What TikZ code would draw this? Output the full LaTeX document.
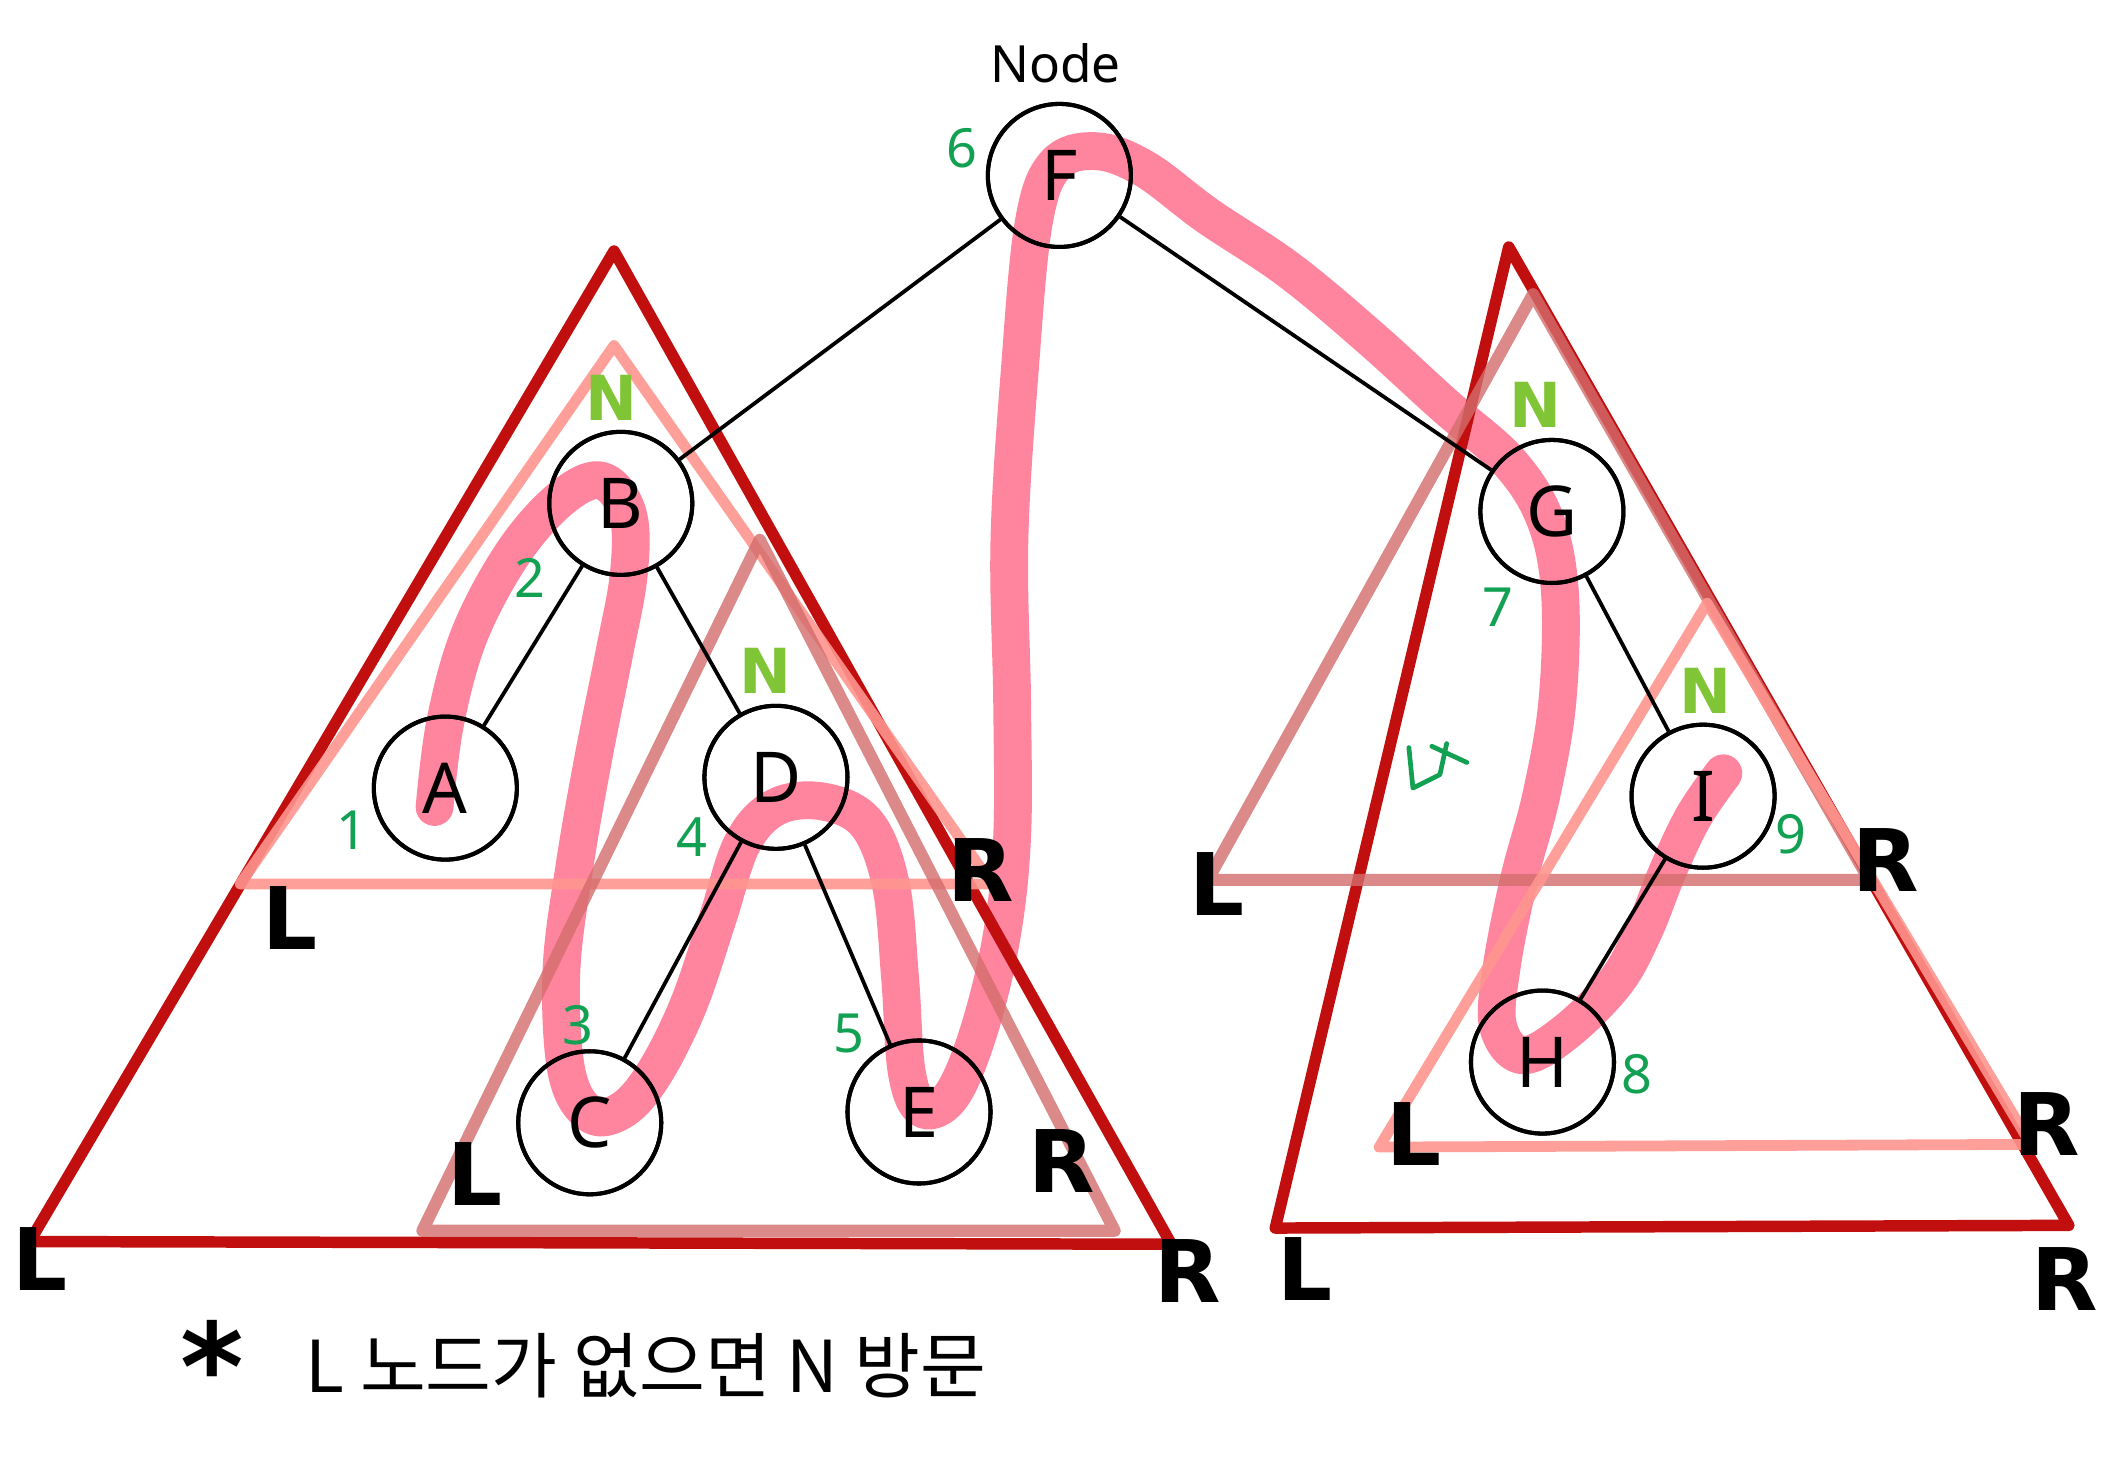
\documentclass[tikz,border=0pt]{standalone}
\usepackage{fontspec}
\setmainfont{Noto Sans}
\newfontfamily\heavy{DejaVu Sans}
\newfontfamily\kr{Noto Sans CJK KR}
\definecolor{dred}{HTML}{C10E0E}
\definecolor{salmon}{HTML}{FF958F}
\definecolor{dusty}{HTML}{D46C6C}
\definecolor{pinkp}{HTML}{FF7F9A}
\definecolor{numg}{HTML}{12A052}
\definecolor{limeg}{HTML}{80C535}
\tikzset{
  tnode/.style={circle, draw=black, line width=3pt, minimum size=106pt, inner sep=0pt, font=\fontsize{52}{56}\selectfont},
  edge/.style={draw=black, line width=2.8pt},
  bigtri/.style={draw=dred, line width=8.5pt, line join=round},
  saltri/.style={draw=salmon, line width=8pt, line join=round, opacity=0.9},
  dustri/.style={draw=dusty, line width=9pt, line join=round, opacity=0.8},
  pinkpath/.style={draw=pinkp, line width=28pt, line cap=round, line join=round, opacity=0.95},
  lr/.style={font=\heavy\bfseries\fontsize{64}{66}\selectfont, text=black, inner sep=0pt},
  num/.style={font=\fontsize{40}{44}\selectfont, text=numg, inner sep=0pt},
  nlab/.style={font=\heavy\bfseries\fontsize{46}{50}\selectfont, text=limeg, inner sep=0pt},
}
\begin{document}
\begin{tikzpicture}[x=1pt, y=-1pt]
\path[use as bounding box, fill=white] (0,0) rectangle (1568,1079);

% pink traversal path
\draw[pinkpath] plot[smooth, tension=0.6] coordinates {
 (322,598) (330,535) (348,470) (380,410) (415,370) (445,356) (465,380) (466,425)
 (455,485) (440,560) (426,640) (416,720) (420,795) (438,826) (462,822) (485,795)
 (510,745) (532,680) (550,625) (575,598) (610,594) (642,610) (660,655) (667,725)
 (672,795) (684,822) (705,812) (725,765) (742,695) (750,620) (750,520) (748,400)
 (756,270) (766,165) (782,122) (812,112) (848,125) (895,160) (955,200) (1015,250)
 (1070,300) (1118,342) (1145,385) (1156,440) (1154,520) (1142,590) (1126,650)
 (1113,715) (1110,760) (1128,782) (1160,765) (1197,728) (1218,690) (1236,645)
 (1255,605) (1277,573)};

% node positions
\node[tnode] (F) at (785,130) {F};
\node[tnode] (B) at (460,373) {B};
\node[tnode] (A) at (330,584) {A};
\node[tnode] (D) at (575,576) {D};
\node[tnode] (C) at (437,832) {C};
\node[tnode] (E) at (681,824) {E};
\node[tnode] (G) at (1150,379) {G};
\node[tnode] (I) at (1262,590) {I};
\node[tnode] (H) at (1143,787) {H};

% triangles left
\coordinate (la1) at (455,186); \coordinate (la2) at (22,920); \coordinate (la3) at (868,922);
\draw[bigtri] (la1) -- (la2) -- (la3) -- cycle;
\coordinate (lb1) at (455,256); \coordinate (lb2) at (178,655); \coordinate (lb3) at (735,655);
\draw[saltri] (lb1) -- (lb2) -- (lb3) -- cycle;
\coordinate (lc1) at (563,400); \coordinate (lc2) at (313,912); \coordinate (lc3) at (826,912);
\draw[dustri] (lc1) -- (lc2) -- (lc3) -- cycle;
% triangles right
\coordinate (ra1) at (1118,183); \coordinate (ra2) at (945,910); \coordinate (ra3) at (1533,908);
\draw[bigtri] (ra1) -- (ra2) -- (ra3) -- cycle;
\coordinate (rb1) at (1136,218); \coordinate (rb2) at (895,652); \coordinate (rb3) at (1385,652);
\draw[dustri] (rb1) -- (rb2) -- (rb3) -- cycle;
\coordinate (rc1) at (1265,447); \coordinate (rc2) at (1022,850); \coordinate (rc3) at (1505,848);
\draw[saltri] (rc1) -- (rc2) -- (rc3) -- cycle;

% edges
\draw[edge] (F) -- (B);
\draw[edge] (F) -- (G);
\draw[edge] (B) -- (A);
\draw[edge] (B) -- (D);
\draw[edge] (D) -- (C);
\draw[edge] (D) -- (E);
\draw[edge] (G) -- (I);
\draw[edge] (I) -- (H);

% redraw node circles on top
\foreach \n in {F,B,A,D,C,E,G,I,H} {\draw[line width=3pt] (\n) circle (53pt);}

% title
\node[font=\fontsize{38}{40}\selectfont, inner sep=0pt] (nodelbl) at (782,47) {Node};

% green numbers
\node[num] (n6) at (713,110) {6};
\node[num] (n2) at (393,428) {2};
\node[num] (n1) at (261,615) {1};
\node[num] (n4) at (513,620) {4};
\node[num] (n3) at (428,760) {3};
\node[num] (n5) at (629,766) {5};
\node[num] (n7) at (1110,450) {7};
\node[num] (n8) at (1213,796) {8};
\node[num] (n9) at (1327,618) {9};
\draw[numg, line width=3.5pt, line cap=round, line join=round]
  (1044,554) -- (1047,584) -- (1067,574) -- (1072,551)
  (1061,553) -- (1087,565);

% N labels
\node[nlab] (NB) at (453,295) {N};
\node[nlab] (ND) at (567,497) {N};
\node[nlab] (NG) at (1138,300) {N};
\node[nlab] (NI) at (1264,512) {N};

% L / R labels
\node[lr] (l1) at (215,680) {L};
\node[lr] (r1) at (727,645) {R};
\node[lr] (l2) at (30,933) {L};
\node[lr] (r2) at (880,942) {R};
\node[lr] (l3) at (352,870) {L};
\node[lr] (r3) at (787,860) {R};
\node[lr] (l4) at (902,655) {L};
\node[lr] (r4) at (1397,637) {R};
\node[lr] (l5) at (1048,840) {L};
\node[lr] (r5) at (1517,833) {R};
\node[lr] (l6) at (967,940) {L};
\node[lr] (r6) at (1530,948) {R};

% note
\node[font=\heavy\bfseries\fontsize{90}{90}\selectfont, inner sep=0pt] (ast) at (157,1012) {*};
\node[anchor=west, font=\kr\fontsize{53}{56}\selectfont, inner sep=0pt] (note) at (226,1012) {L 노드가 없으면 N 방문};
\end{tikzpicture}
\end{document}
